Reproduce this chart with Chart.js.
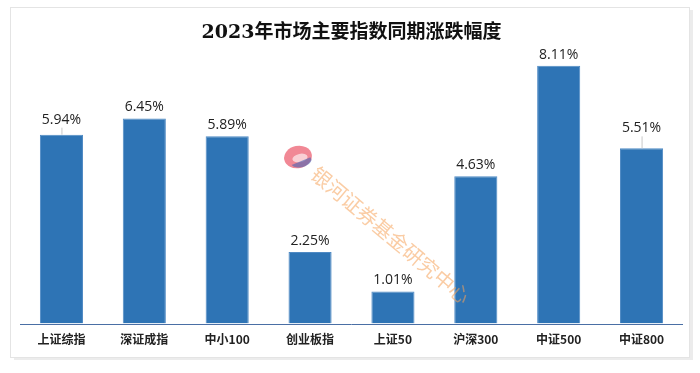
<!DOCTYPE html>
<html><head><meta charset="utf-8">
<script src="https://cdn.jsdelivr.net/npm/chart.js@4"></script>
<style>html,body{margin:0;padding:0;background:#fff}#w{width:700px;height:373px;position:relative}</style>
</head><body><div id="w"><canvas id="c" width="700" height="373"></canvas></div>
<script>
const categories = ["上证综指","深证成指","中小100","创业板指","上证50","沪深300","中证500","中证800"];
const values = [5.94, 6.45, 5.89, 2.25, 1.01, 4.63, 8.11, 5.51];
const labelOffsets = [8, 4, 4, 4, 4, 4, 4, 13];
const titleText = "2023年市场主要指数同期涨跌幅度";
const watermarkText = "银河证券基金研究中心";

const framePlugin = {
  id: 'frame',
  beforeDraw(chart) {
    const ctx = chart.ctx;
    ctx.save();
    ctx.fillStyle = '#fff';
    ctx.fillRect(0, 0, 700, 373);
    ctx.fillStyle = '#ececec';
    ctx.fillRect(14, 10, 679, 350);
    ctx.fillStyle = '#fff';
    ctx.fillRect(10, 7, 679, 350);
    ctx.strokeStyle = '#e4e4e4';
    ctx.lineWidth = 1;
    ctx.strokeRect(10.5, 7.5, 679, 350);
    ctx.restore();
  },
  afterDatasetsDraw(chart) {
    const ctx = chart.ctx;
    const meta = chart.getDatasetMeta(0);
    ctx.save();
    ctx.font = '14px "Open Sans", "Liberation Sans", sans-serif';
    ctx.fillStyle = '#222';
    ctx.textAlign = 'center';
    ctx.textBaseline = 'bottom';
    meta.data.forEach((bar, i) => {
      const off = labelOffsets[i];
      const ly = bar.y - off;
      ctx.fillText(values[i].toFixed(2) + '%', bar.x, ly);
      if (off > 6) {
        ctx.strokeStyle = '#c8c8c8';
        ctx.beginPath();
        ctx.moveTo(bar.x + 0.5, ly + 1);
        ctx.lineTo(bar.x + 0.5, bar.y);
        ctx.stroke();
      }
    });
    const xs = chart.scales.x, ys = chart.scales.y;
    const by = Math.round(ys.getPixelForValue(0)) + 0.5;
    ctx.strokeStyle = '#4a6fa5';
    ctx.lineWidth = 1;
    ctx.beginPath();
    ctx.moveTo(xs.left, by);
    ctx.lineTo(xs.right, by);
    ctx.stroke();
    // watermark logo
    ctx.globalAlpha = 0.6;
    const cx = 298, cy = 157, r = 14;
    ctx.fillStyle = '#e8384f';
    ctx.beginPath();
    ctx.ellipse(cx, cy, r, r * 0.8, -0.2, 0, Math.PI * 2);
    ctx.fill();
    ctx.fillStyle = '#ffffff';
    ctx.beginPath();
    ctx.ellipse(cx + 2, cy + 1, r * 0.55, r * 0.3, -0.2, 0, Math.PI * 2);
    ctx.fill();
    ctx.fillStyle = '#4a64b4';
    ctx.beginPath();
    ctx.ellipse(cx + 3, cy + 4, r * 0.75, r * 0.45, -0.2, -0.3, Math.PI * 0.9);
    ctx.fill();
    ctx.globalAlpha = 0.55;
    ctx.translate(314, 171);
    ctx.rotate(40 * Math.PI / 180);
    ctx.font = '20px "Noto Sans CJK SC", sans-serif';
    ctx.fillStyle = '#f5a25a';
    ctx.textAlign = 'left';
    ctx.textBaseline = 'middle';
    ctx.fillText(watermarkText, 0, 0);
    ctx.restore();
  }
};

new Chart(document.getElementById('c'), {
  type: 'bar',
  data: {
    labels: categories,
    datasets: [{
      data: values,
      backgroundColor: '#2e74b5',
      borderColor: '#4f8ac4',
      borderWidth: 1,
      barPercentage: 0.52,
      categoryPercentage: 1.0
    }]
  },
  options: {
    responsive: false,
    animation: false,
    devicePixelRatio: 1,
    layout: { padding: { left: 20, right: 17, top: 18, bottom: 17 } },
    plugins: {
      legend: { display: false },
      tooltip: { enabled: false },
      title: {
        display: true,
        text: titleText,
        color: '#111',
        font: { family: '"DejaVu Serif", "Noto Sans CJK SC", serif', size: 19, weight: 'bold' },
        padding: { top: 4, bottom: 4 }
      }
    },
    scales: {
      x: {
        grid: { display: false, drawTicks: false },
        border: { display: false },
        ticks: {
          color: '#222',
          padding: 9,
          font: { family: '"Noto Sans CJK SC", sans-serif', size: 12, weight: 'bold' }
        }
      },
      y: {
        display: false,
        min: 0,
        max: 8.64
      }
    }
  },
  plugins: [framePlugin]
});
</script></body></html>
